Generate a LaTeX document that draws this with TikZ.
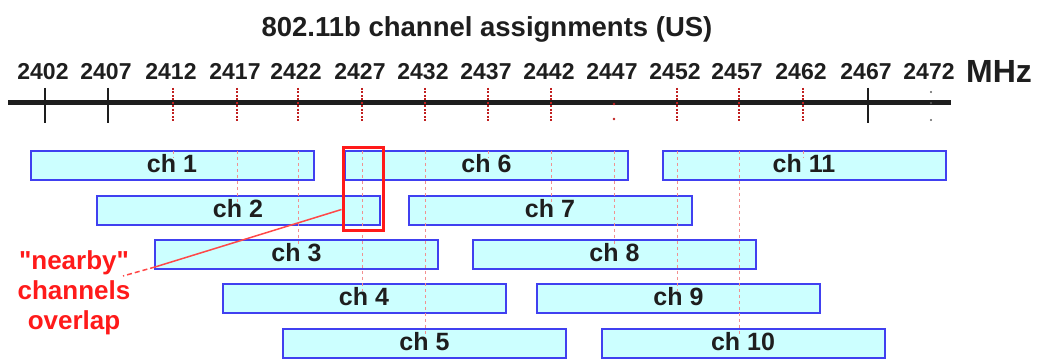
\documentclass[tikz,border=0pt]{standalone}
\usepackage{fontspec}
\setmainfont{Liberation Sans}
\newfontfamily\notefont{Liberation Sans}[Ligatures=TeXOff]
\definecolor{boxfill}{HTML}{CCFFFF}
\definecolor{boxline}{HTML}{4040F0}
\definecolor{ink}{HTML}{1E1E1E}
\definecolor{alert}{HTML}{FF1A1A}
\definecolor{guide}{HTML}{F29090}
\definecolor{tickred}{HTML}{C02020}
\tikzset{
  chan/.style={draw=boxline, fill=boxfill, line width=2pt, inner sep=0pt,
    minimum width=283pt, minimum height=29pt, anchor=north},
  chlabel/.style={font=\bfseries\fontsize{25}{28}\selectfont, text=ink,
    inner sep=0pt, anchor=base},
  freqlabel/.style={font=\bfseries\fontsize{23}{23}\selectfont, text=ink,
    inner sep=0pt, anchor=base},
  plaintick/.style={draw=ink, line width=1.4pt},
  centretick/.style={draw=tickred, line width=1.4pt, dash pattern=on 2pt off 1.5pt},
  guideline/.style={draw=guide, line width=0.8pt, dash pattern=on 3pt off 3pt},
  zonebox/.style={draw=alert, line width=3pt, inner sep=0pt, anchor=north west,
    minimum width=40pt, minimum height=83pt},
  pointer/.style={draw=alert!80!white, line width=1.5pt},
}
\begin{document}
\begin{tikzpicture}[x=1pt, y=-1pt]
\useasboundingbox (0,0) rectangle (1039,363);

% title
\node[font=\bfseries\fontsize{27.5}{30}\selectfont, text=ink, inner sep=0pt, anchor=base]
  (title) at (487,36.5) {802.11b channel assignments (US)};

% frequency axis
\draw[ink, line width=5pt] (8,103) -- (951,103);
\foreach \f/\x in {2402/45, 2407/108, 2412/173, 2417/237, 2422/298, 2427/362,
                   2432/425, 2437/488, 2442/551, 2447/614, 2452/677, 2457/739,
                   2462/803, 2467/868, 2472/931}
  \node[freqlabel] (f\f) at (\x-2,80) {\f};
\node[font=\bfseries\fontsize{32}{32}\selectfont, text=ink, inner sep=0pt, anchor=base]
  (unit) at (999,83) {MHz};

% plain ticks
\foreach \x in {45,108,868}
  \draw[plaintick] (\x,88) -- (\x,123);
% ticks at the channel centre frequencies
\foreach \x in {173,237,298,362,425,488,551,677,739,803}
  \draw[centretick] (\x,88) -- (\x,123);
% faint ticks
\fill[tickred] (614,104) circle (1.3pt) (614,119) circle (1.3pt);
\fill[ink!70] (931,92) circle (1.2pt) (931,103) circle (1.2pt) (931,120) circle (1.2pt);

% channel boxes: number / centre x / top y
\foreach \n/\cx/\t in {1/172/150, 2/238/195, 3/296.5/239, 4/364/283, 5/424.5/328,
                       6/486.5/150, 7/550/195, 8/614.5/239, 9/678.5/283,
                       10/743/328, 11/804/150}
  \node[chan] (ch\n) at (\cx,\t) {};

% guides from the first row down to each channel's box
\foreach \x/\t in {173/150, 237/195, 298/239, 362/283, 425/328, 488/150,
                   551/195, 614/239, 677/283, 739/328, 803/150}
  \draw[guideline] (\x,151) -- (\x,\t+8);

% channel labels
\foreach \n in {1,...,11}
  \node[chlabel] (lab\n) at ([yshift=-23pt]ch\n.north) {ch \n};

% overlap marker and callout
\node[zonebox] (zone) at (341.5,146.5) {};
\node[font=\notefont\bfseries\fontsize{26}{30}\selectfont, text=alert, align=center,
      inner sep=0pt, anchor=north] (note) at (74,250)
  {"nearby"\\channels\\overlap};
\coordinate (bend) at (155,267);
\coordinate (tip) at (123,276);
\draw[pointer] ([yshift=-20pt]zone.west) -- (bend);
\draw[pointer, dash pattern=on 5pt off 3pt] (bend) -- (tip);
\end{tikzpicture}
\end{document}
